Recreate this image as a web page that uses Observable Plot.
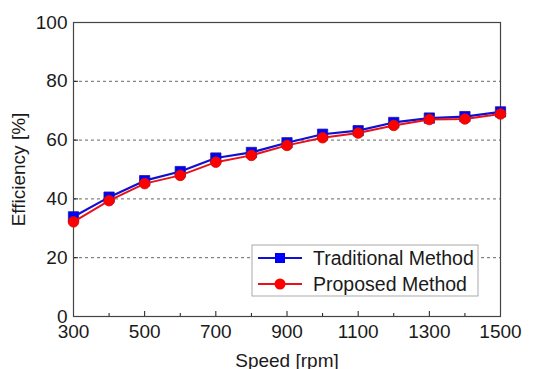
<!DOCTYPE html>
<html>
<head>
<meta charset="utf-8">
<script src="https://cdn.jsdelivr.net/npm/d3@7"></script>
<script src="https://cdn.jsdelivr.net/npm/@observablehq/plot@0.6"></script>
<style>
  body { margin: 0; background: #fff; }
  #chart { position: relative; width: 545px; height: 369px; }
</style>
</head>
<body>
<div id="chart"></div>
<script>
const speed = [300, 400, 500, 600, 700, 800, 900, 1000, 1100, 1200, 1300, 1400, 1500];
const traditional = [33.9, 40.6, 46.2, 49.3, 53.9, 55.8, 59.1, 62.0, 63.2, 66.0, 67.5, 68.0, 69.6];
const proposed = [32.2, 39.4, 45.2, 48.0, 52.5, 54.8, 58.2, 60.8, 62.4, 65.0, 67.0, 67.2, 68.9];
const xMajorTicks = [300, 500, 700, 900, 1100, 1300, 1500];
const xMinorTicks = [400, 600, 800, 1000, 1200, 1400];
const yTicks = [0, 20, 40, 60, 80, 100];
const gridValues = [20, 40, 60, 80];
const seriesNames = ["Traditional Method", "Proposed Method"];

const tradData = speed.map((s, i) => ({speed: s, eff: traditional[i]}));
const propData = speed.map((s, i) => ({speed: s, eff: proposed[i]}));

const font = "'Liberation Sans', Arial, sans-serif";

const plot = Plot.plot({
  width: 545,
  height: 369,
  marginLeft: 73,
  marginRight: 45,
  marginTop: 22,
  marginBottom: 53,
  style: {fontFamily: font, fontSize: "19px", color: "#1a1a1a", background: "#fff"},
  x: {domain: [300, 1500]},
  y: {domain: [0, 100]},
  marks: [
    Plot.ruleY(gridValues, {stroke: "#666", strokeWidth: 1, strokeDasharray: "3,3"}),
    Plot.axisX({ticks: xMajorTicks, tickSize: -5, tickPadding: 13, tickFormat: d => String(d), label: "Speed [rpm]", labelAnchor: "center", labelArrow: "none", labelOffset: 50, fontSize: 19}),
    Plot.axisX({ticks: xMinorTicks, tickSize: -3, tickFormat: () => "", label: null}),
    Plot.axisY({ticks: yTicks, tickSize: -5, tickPadding: 11, label: "Efficiency [%]", labelAnchor: "center", labelArrow: "none", labelOffset: 62, fontSize: 19}),
    Plot.frame({stroke: "#444", strokeWidth: 1.2}),
    Plot.line(tradData, {x: "speed", y: "eff", stroke: "#1010d0", strokeWidth: 2.2}),
    Plot.dot(tradData, {x: "speed", y: "eff", symbol: "square", r: 5.8, fill: "#0000ff", stroke: "#1a1a9a", strokeWidth: 0.8}),
    Plot.line(propData, {x: "speed", y: "eff", stroke: "#e8101a", strokeWidth: 2}),
    Plot.dot(propData, {x: "speed", y: "eff", symbol: "circle", r: 5.3, fill: "#ff0000", stroke: "#d01010", strokeWidth: 0.8})
  ]
});

document.getElementById("chart").appendChild(plot);

// Legend inside the plot area
const svg = d3.select(plot);
const lg = svg.append("g").attr("font-family", font).attr("font-size", 19.5).attr("fill", "#1a1a1a").attr("text-anchor", "start");
lg.append("rect").attr("x", 252).attr("y", 245).attr("width", 226).attr("height", 51)
  .attr("fill", "#fff").attr("stroke", "#aaa").attr("stroke-width", 1);
const items = [
  {name: seriesNames[0], color: "#1010d0", fill: "#0000ff", shape: "square", y: 258},
  {name: seriesNames[1], color: "#e8101a", fill: "#ff0000", shape: "circle", y: 284}
];
items.forEach(it => {
  lg.append("line").attr("x1", 258).attr("x2", 302).attr("y1", it.y).attr("y2", it.y)
    .attr("stroke", it.color).attr("stroke-width", 2);
  if (it.shape === "square") {
    lg.append("rect").attr("x", 275).attr("y", it.y - 5).attr("width", 10).attr("height", 10).attr("fill", it.fill);
  } else {
    lg.append("circle").attr("cx", 280).attr("cy", it.y).attr("r", 5.5).attr("fill", it.fill);
  }
  lg.append("text").attr("x", 313).attr("y", it.y).attr("dy", "0.35em").attr("text-anchor", "start").text(it.name);
});
</script>
</body>
</html>
